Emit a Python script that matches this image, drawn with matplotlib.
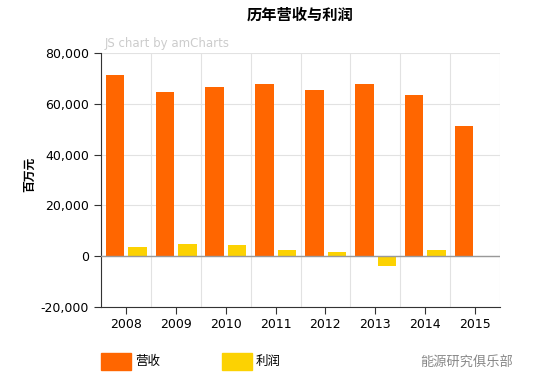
import matplotlib
matplotlib.use("Agg")
import matplotlib.pyplot as plt
import numpy as np
from matplotlib.ticker import FuncFormatter, MultipleLocator
from matplotlib.patches import Rectangle

years = ["2008", "2009", "2010", "2011", "2012", "2013", "2014", "2015"]
revenue = [71500, 64500, 66500, 67700, 65400, 67700, 63400, 51200]
profit = [3600, 4800, 4400, 2500, 1700, -3800, 2500, 100]
series_names = ["营收", "利润"]

CJK = ["Noto Sans CJK SC", "DejaVu Sans"]
orange = "#FF6600"
yellow = "#FCD202"

fig = plt.figure(figsize=(5.58, 3.89), dpi=100)
ax = fig.add_axes([101/558, 1-307/389, (500-101)/558, (307-53)/389])

x = np.arange(len(years))
w = 0.37
ax.bar(x - 0.22, revenue, width=w, color=orange, zorder=3)
ax.bar(x + 0.23, profit, width=w, color=yellow, zorder=3)

ax.set_xlim(-0.5, len(years) - 0.5)
ax.set_ylim(-20000, 80000)
ax.yaxis.set_major_locator(MultipleLocator(20000))
ax.yaxis.set_major_formatter(FuncFormatter(lambda v, p: f"{int(v):,}"))
ax.set_xticks(x)
ax.set_xticklabels(years)
ax.set_xticks(np.arange(len(years) + 1) - 0.5, minor=True)

ax.grid(axis="y", which="major", color="#e2e2e2", linewidth=0.8, zorder=0)
ax.grid(axis="x", which="minor", color="#e2e2e2", linewidth=0.8, zorder=0)
ax.axhline(0, color="#999999", linewidth=1.0, zorder=4)

for s in ["top", "right"]:
    ax.spines[s].set_visible(False)
ax.spines["left"].set_color("#333333")
ax.spines["bottom"].set_color("#333333")
ax.tick_params(axis="both", which="major", labelsize=9, colors="#333333", length=5, width=0.8)
ax.tick_params(axis="x", which="minor", length=0)
ax.tick_params(axis="x", pad=3)
for lbl in ax.get_xticklabels() + ax.get_yticklabels():
    lbl.set_color("#000000")

fig.text(300/558, 1 - 15/389, "历年营收与利润", family=CJK, fontsize=11, fontweight="bold",
         ha="center", va="center")
fig.text(105/558, 1 - 43/389, "JS chart by amCharts", fontsize=8.5, color="#cccccc",
         ha="left", va="center")
fig.text(30/558, 1 - 174/389, "百万元", family=CJK, fontsize=8.5, fontweight="bold",
         rotation=90, ha="center", va="center")

# legend
fig.patches.append(Rectangle((101/558, 1 - 370/389), 30/558, 17/389, transform=fig.transFigure,
                             color=orange, figure=fig))
fig.text(135/558, 1 - 361/389, series_names[0], family=CJK, fontsize=9, ha="left", va="center")
fig.patches.append(Rectangle((222/558, 1 - 370/389), 30/558, 17/389, transform=fig.transFigure,
                             color=yellow, figure=fig))
fig.text(256/558, 1 - 361/389, series_names[1], family=CJK, fontsize=9, ha="left", va="center")

fig.text(420/558, 1 - 362/389, "能源研究俱乐部", family=CJK, fontsize=9.5, color="#888888",
         ha="left", va="center")

fig.savefig("out.png", dpi=100)
